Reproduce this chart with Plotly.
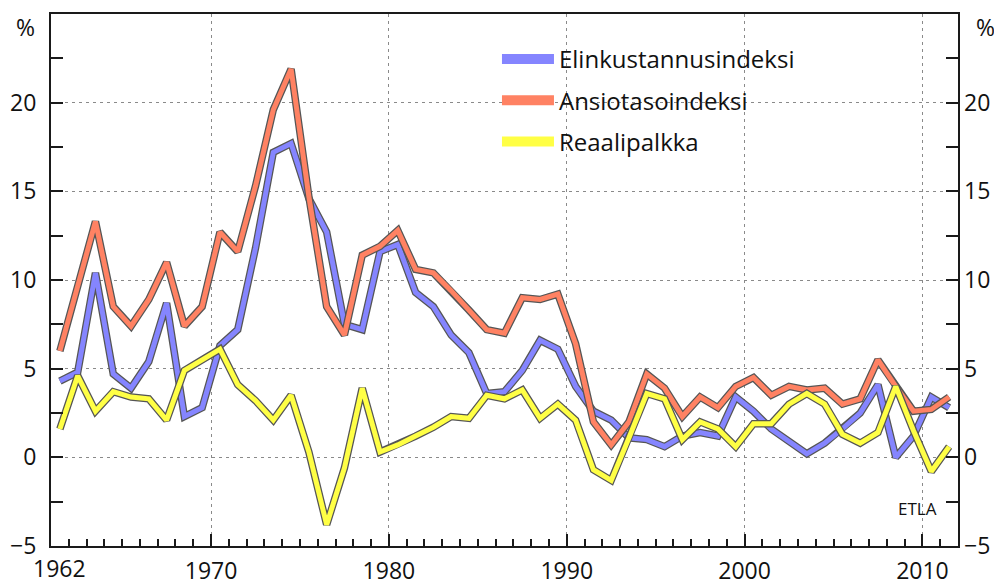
import plotly.graph_objects as go

# vuosimuutos, %
years = list(range(1962, 2013))

elinkustannus = [4.3, 4.8, 10.4, 4.7, 3.9, 5.4, 8.7, 2.3, 2.8, 6.3,
                 7.2, 11.8, 17.2, 17.7, 14.6, 12.7, 7.5, 7.2, 11.6, 12.0,
                 9.3, 8.5, 6.9, 5.9, 3.6, 3.7, 4.9, 6.6, 6.1, 4.0,
                 2.6, 2.1, 1.1, 1.0, 0.6, 1.2, 1.4, 1.2, 3.4, 2.6,
                 1.6, 0.9, 0.2, 0.8, 1.6, 2.5, 4.1, 0.0, 1.2, 3.4,
                 2.8]

ansiotaso = [6.0, 9.6, 13.3, 8.5, 7.4, 8.9, 11.0, 7.4, 8.5, 12.7,
             11.6, 15.3, 19.6, 21.9, 14.7, 8.5, 6.9, 11.4, 11.9, 12.8,
             10.6, 10.4, 9.4, 8.3, 7.2, 7.0, 9.0, 8.9, 9.2, 6.4,
             2.0, 0.7, 2.0, 4.7, 3.9, 2.3, 3.4, 2.8, 4.0, 4.5,
             3.5, 4.0, 3.8, 3.9, 3.0, 3.3, 5.5, 4.0, 2.6, 2.7,
             3.4]

reaalipalkka = [1.6, 4.6, 2.6, 3.7, 3.4, 3.3, 2.1, 4.9, 5.5, 6.1,
                4.1, 3.2, 2.1, 3.5, 0.3, -3.8, -0.6, 3.9, 0.3, 0.7,
                1.2, 1.7, 2.3, 2.2, 3.5, 3.3, 3.8, 2.2, 3.0, 2.1,
                -0.7, -1.3, 1.1, 3.6, 3.3, 1.0, 2.0, 1.6, 0.6, 1.9,
                1.9, 3.0, 3.6, 3.0, 1.3, 0.8, 1.4, 4.0, 1.5, -0.8,
                0.6]

decades = [1970, 1980, 1990, 2000, 2010]
y_ticks = [-5, 0, 5, 10, 15, 20]

series = [
    ("Elinkustannusindeksi", elinkustannus, "#8585ff"),
    ("Ansiotasoindeksi", ansiotaso, "#ff8263"),
    ("Reaalipalkka", reaalipalkka, "#ffff45"),
]

FONT = "Open Sans, Lato, sans-serif"
AXIS = "#1a1a1a"

fig = go.Figure()
for name, vals, color in series:
    # dark outline under each line
    fig.add_trace(go.Scatter(x=years, y=vals, mode="lines", showlegend=False,
                             line=dict(color="#555555", width=7.5),
                             hoverinfo="skip"))
    fig.add_trace(go.Scatter(x=years, y=vals, mode="lines", showlegend=False,
                             line=dict(color=color, width=5)))

# legend entries (thicker swatches)
for name, vals, color in series:
    fig.add_trace(go.Scatter(x=[None], y=[None], mode="lines", name=name,
                             legendgroup=name, line=dict(color=color, width=10)))

grid = dict(showgrid=True, gridcolor="#8a8a8a", gridwidth=1, griddash="3px,4px")

# the page body adds an 8px offset, so the figure is 8px smaller than the window
fig.update_layout(
    width=994, height=577,
    margin=dict(l=43, r=44, t=6, b=39, autoexpand=False),
    paper_bgcolor="white", plot_bgcolor="white",
    font=dict(family=FONT, size=23, color="#111111"),
    showlegend=True,
    legend=dict(x=0.4917, y=0.957, xanchor="left", yanchor="top",
                bgcolor="rgba(0,0,0,0)", itemwidth=52,
                traceorder="grouped", tracegroupgap=7,
                font=dict(size=24)),
    xaxis=dict(range=[1961.5, 2012.5], automargin=False,
               tickvals=[d + 0.5 for d in decades],
               ticktext=[str(d) for d in decades],
               ticks="inside", ticklen=12, tickwidth=2, tickcolor=AXIS,
               minor=dict(tick0=1962.5, dtick=1, ticks="inside", ticklen=7,
                          tickwidth=1.5, tickcolor=AXIS, showgrid=False),
               showline=True, linecolor=AXIS, linewidth=2, mirror=True,
               zeroline=False, ticklabelstandoff=3, **grid),
    yaxis=dict(range=[-5, 25], tickvals=y_ticks, automargin=False,
               ticks="inside", ticklen=12, tickwidth=2, tickcolor=AXIS,
               minor=dict(tick0=-2.5, dtick=5, ticks="inside", ticklen=12,
                          tickwidth=2, tickcolor=AXIS, showgrid=False),
               showline=True, linecolor=AXIS, linewidth=2, mirror="ticks",
               zeroline=False, ticklabelstandoff=8, **grid),
    yaxis2=dict(range=[-5, 25], tickvals=y_ticks, overlaying="y", side="right",
                automargin=False, showgrid=False, zeroline=False,
                showline=False, ticks="", ticklabelstandoff=5),
)

# invisible trace to bring up the right-hand axis
fig.add_trace(go.Scatter(x=[years[0]], y=[y_ticks[1]], yaxis="y2", mode="lines",
                         showlegend=False, hoverinfo="skip",
                         line=dict(color="rgba(0,0,0,0)")))

fig.add_annotation(x=years[0], y=0, xref="x", yref="paper", text="1962",
                   showarrow=False, yanchor="top", yshift=-4)
fig.add_annotation(x=0, y=1, xref="paper", yref="paper", text="%",
                   showarrow=False, xanchor="right", yanchor="middle",
                   xshift=-14, yshift=-13)
fig.add_annotation(x=1, y=1, xref="paper", yref="paper", text="%",
                   showarrow=False, xanchor="left", yanchor="middle",
                   xshift=16, yshift=-13)
fig.add_annotation(x=2010.2, y=-2.9, xref="x", yref="y", text="ETLA",
                   showarrow=False, xanchor="center", yanchor="middle",
                   font=dict(size=17))

fig.write_html("out.html")
